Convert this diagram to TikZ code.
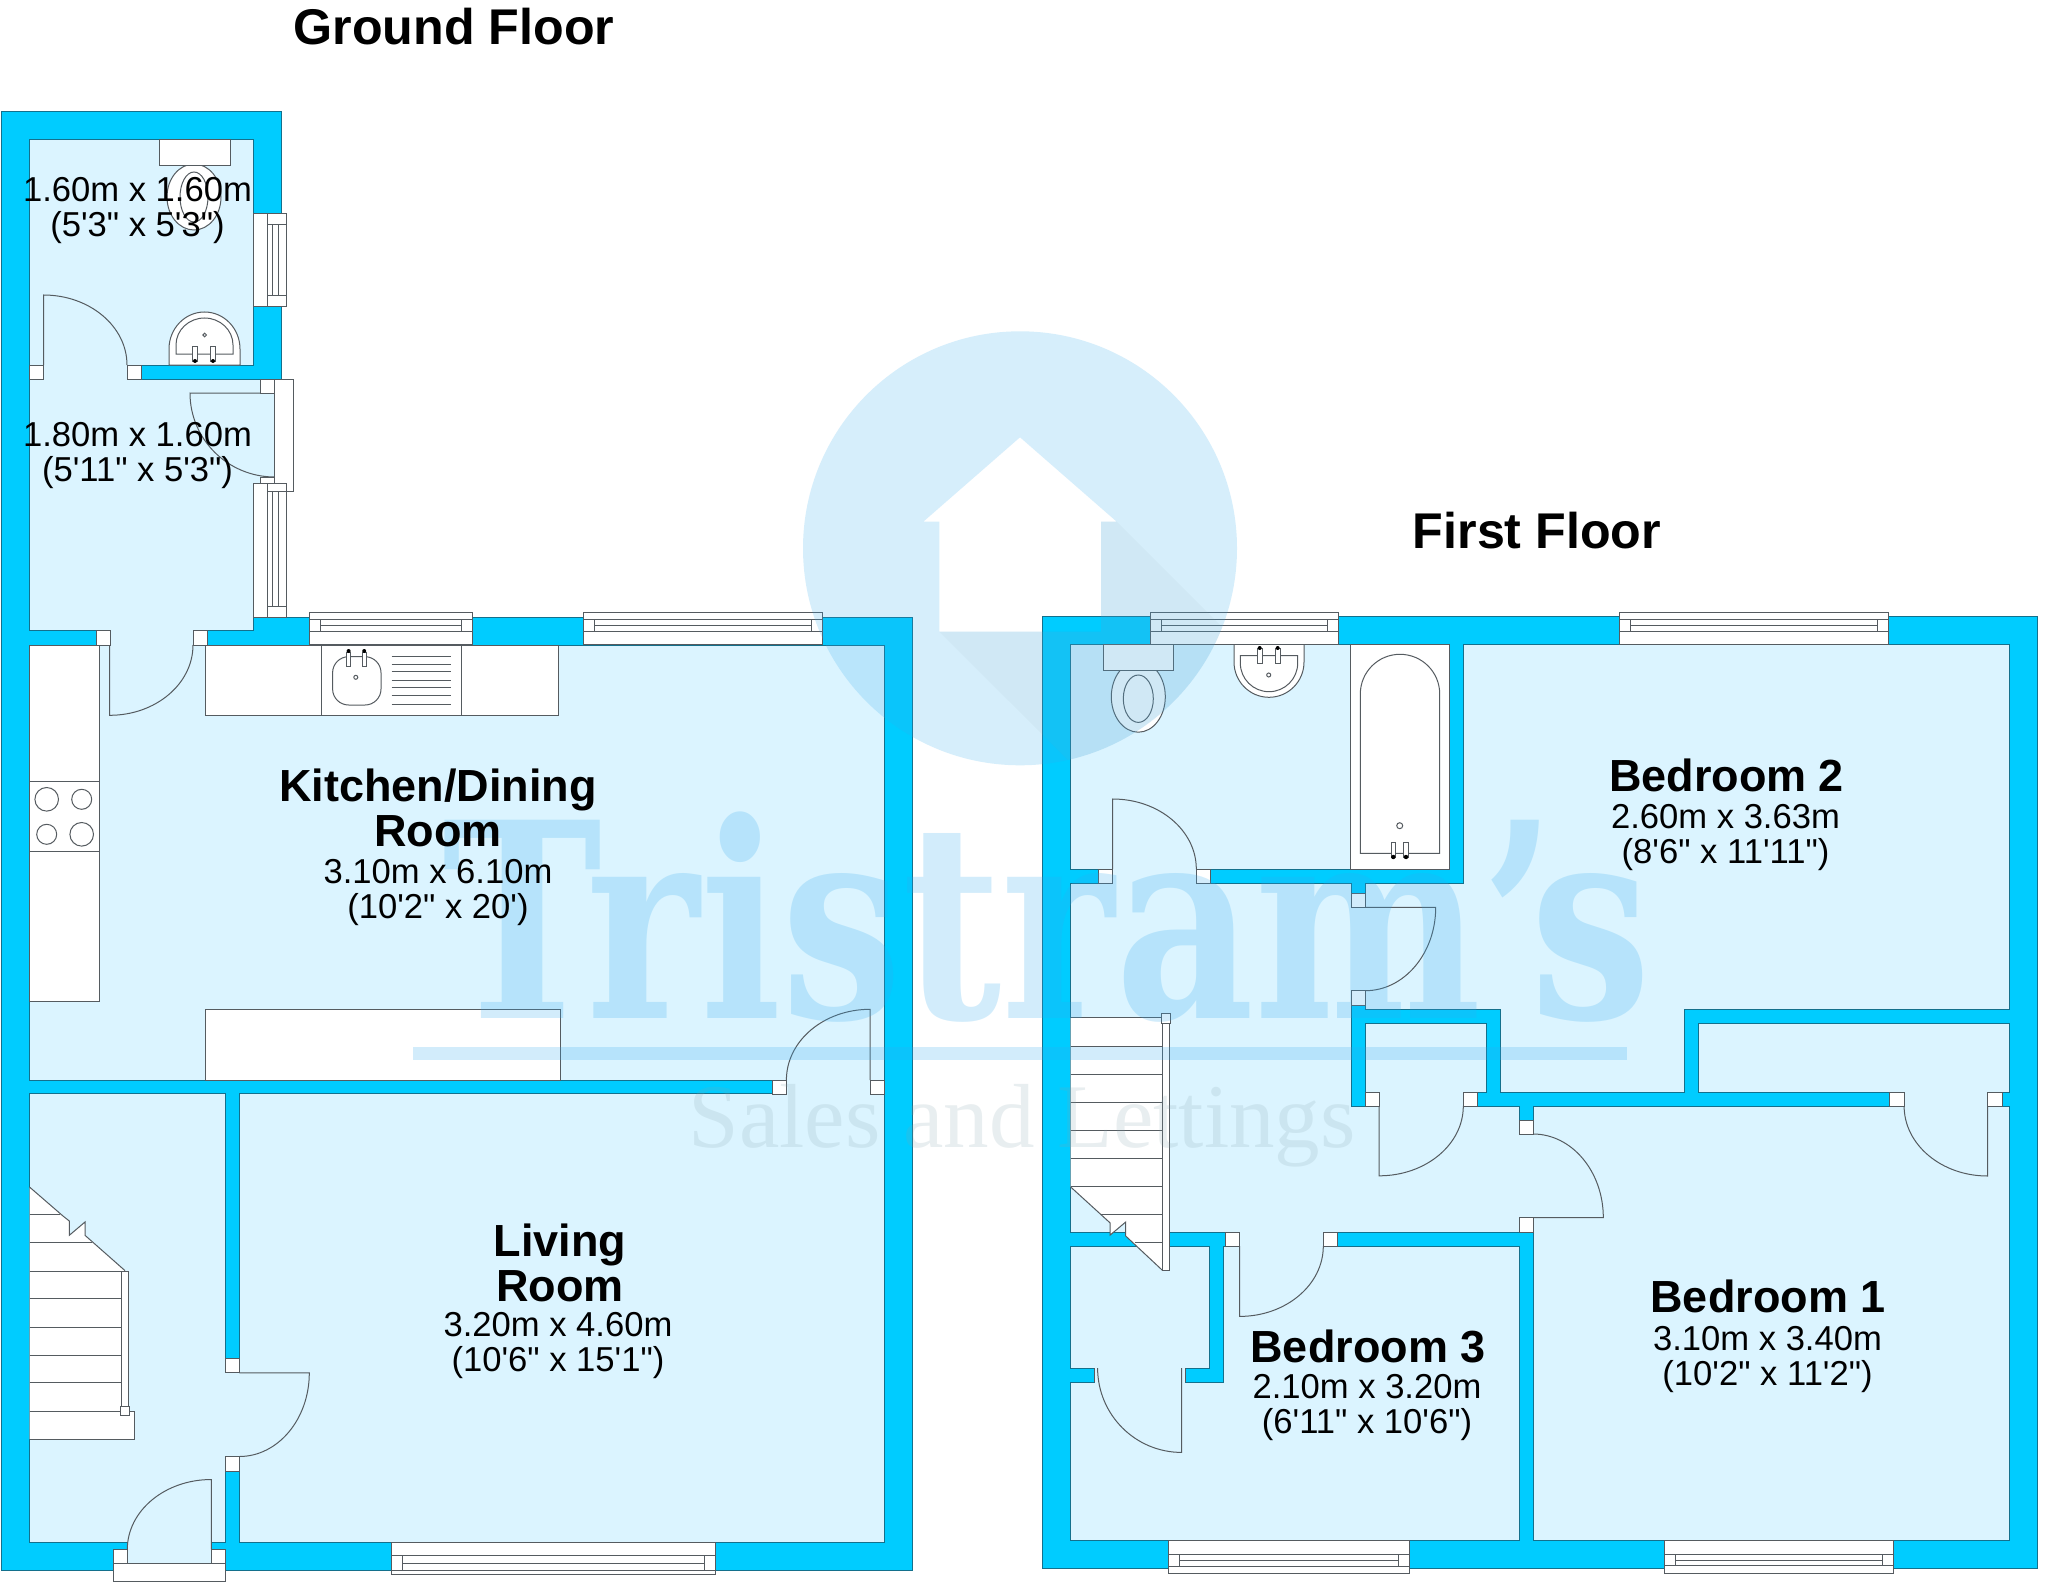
\documentclass[tikz,border=0pt]{standalone}
\usepackage{fontspec}
\newfontfamily\planfont{Liberation Sans}
\newfontfamily\markfont{DejaVu Serif}
\newfontfamily\salesfont{Liberation Serif}
\definecolor{wallblue}{HTML}{00CCFF}
\definecolor{roomblue}{HTML}{DBF4FF}
\definecolor{walledge}{HTML}{14708C}
\definecolor{fitline}{HTML}{555B60}
\definecolor{markblue}{HTML}{33AAEE}
\definecolor{markshade}{HTML}{A8A090}
\tikzset{
  wall/.style={fill=wallblue, draw=walledge, line width=.5pt},
  room/.style={fill=roomblue, draw=walledge, line width=.5pt},
  gapfill/.style={fill=roomblue},
  fitting/.style={fill=white, draw=fitline, line width=.5pt},
  thinline/.style={draw=fitline, line width=.5pt},
  swing/.style={draw=fitline, line width=.5pt},
  floorname/.style={font=\planfont\fontsize{25.1}{26}\selectfont\bfseries, anchor=base},
  roomname/.style={font=\planfont\fontsize{22.5}{22.5}\selectfont\bfseries, align=center, anchor=base, inner sep=0pt},
  roomsize/.style={font=\planfont\fontsize{17.3}{17.4}\selectfont, align=center, anchor=base, inner sep=0pt}
}
\begin{document}
\begin{tikzpicture}[x=.5pt, y=-.5pt]
  \useasboundingbox (0,0) rectangle (2048,1583);
  \fill[white] (0,0) rectangle (2048,1583);

  \draw[wall] (1.5,112) -- (281.7,112) -- (281.7,379) -- (274.7,379) -- (274.7,491) -- (253,491)
    -- (253,617.3) -- (912.6,617.3) -- (912.6,1570.6) -- (1.5,1570.6) -- cycle;
  \draw[wall] (1042.7,616.7) rectangle (2037.7,1568.8);

  \draw[room] (29.5,140) rectangle (253,365);
  \draw[room] (29.5,379) -- (260.7,379) -- (260.7,483.7) -- (253,483.7) -- (253,630.6) -- (29.5,630.6) -- cycle;
  \draw[room] (29.5,645) rectangle (884.4,1080);
  \draw[room] (29.5,1093.7) rectangle (225.3,1542.8);
  \draw[room] (239.3,1093.7) rectangle (884.4,1542.8);

  \draw[room] (1070.7,644.3) rectangle (1449,869);
  \draw[room] (1463,644.3) -- (2009.4,644.3) -- (2009.4,1009.3) -- (1684.3,1009.3) -- (1684.3,1092)
    -- (1500.4,1092) -- (1500.4,1009.3) -- (1365.3,1009.3) -- (1365.3,883.3) -- (1463,883.3) -- cycle;
  \draw[room] (1070.7,883.3) -- (1351.3,883.3) -- (1351.3,1106) -- (1519,1106) -- (1519,1232.3) -- (1070.7,1232.3) -- cycle;
  \draw[room] (1365.3,1023.4) rectangle (1486.7,1092);
  \draw[room] (1533,1106) rectangle (2009.4,1540.1);
  \draw[room] (1698.3,1023.3) rectangle (2009.4,1092);
  \draw[room] (1223.7,1246) -- (1519,1246) -- (1519,1540.1) -- (1070.7,1540.1) -- (1070.7,1382) -- (1223.7,1382) -- cycle;
  \draw[room] (1070.7,1246) rectangle (1209.4,1368);

  \foreach \xa/\ya/\xb/\yb in {43.5/364/127/380, 110/630/193/646, 260/393/274.7/477.5,
      786.4/1079/870/1095, 224.5/1372.9/240/1456.5, 127.3/1542/211.3/1563,
      1112.7/868/1196.3/884, 1350.5/907.3/1366/990.7, 1379.2/1091/1463.3/1107,
      1518.2/1134/1533.8/1217.7, 1904.1/1091/1987.6/1107, 1239.6/1231.5/1323.3/1246.8,
      1094.7/1367/1185.3/1383}
    \fill[gapfill] (\xa,\ya) rectangle (\xb,\yb);
  \draw[thinline] (1094.7,1368) -- (1094.7,1382) (1185.3,1368) -- (1185.3,1382);

  \draw[fitting] (29.5,645) rectangle (99.5,1001.7);
  \draw[fitting] (29.5,781.7) rectangle (99.5,851.7);
  \foreach \cx/\cy/\cr in {46.7/799.3/11.8, 81.7/799.3/10, 46.7/834.3/10, 81.7/834.3/11.8}
    \draw[thinline] (\cx,\cy) circle[radius=\cr];
  \draw[fitting] (205.3,645) rectangle (558.2,715.3);
  \draw[thinline] (321.2,645) -- (321.2,715.3) (461.4,645) -- (461.4,715.3);
  \draw[thinline, rounded corners=8pt] (332.6,656.7) rectangle (381,705);
  \foreach \ty in {656.7,664.3,671.7,680,687.3,695.3,704}
    \draw[thinline] (391.5,\ty) -- (450.5,\ty);
  \draw[thinline] (355.8,677.3) circle[radius=2];
  \foreach \tx in {348.6,364.2} {
    \draw[fitting] (\tx-2.2,652) rectangle (\tx+2.2,666.7);
    \fill[black] (\tx,651) circle[radius=2];
  }
  \draw[fitting] (205.3,1009.3) rectangle (560.7,1080);

  \draw[fitting] (194,197) ellipse[x radius=27, y radius=33];
  \draw[thinline] (194,197) ellipse[x radius=14, y radius=25];
  \draw[fitting] (159,140) rectangle (230,166);
  \draw[fitting] (169,365) -- (169,349) arc[start angle=180, end angle=360, x radius=35.5, y radius=37] -- (240,365) -- cycle;
  \draw[thinline] (176,354) -- (176,345) arc[start angle=180, end angle=360, x radius=28.5, y radius=27] -- (233,354) -- cycle;
  \draw[thinline] (204.7,335) circle[radius=1.8];
  \foreach \tx in {195,213} {
    \draw[fitting] (\tx-2.2,347) rectangle (\tx+2.2,361);
    \fill[black] (\tx,361) circle[radius=2];
  }

  \draw[fitting] (1138.3,696.7) ellipse[x radius=27, y radius=35.5];
  \draw[thinline] (1138.3,698.7) ellipse[x radius=15, y radius=23.7];
  \draw[fitting] (1103.3,644.3) rectangle (1173.3,670.7);
  \draw[fitting] (1234,644.3) -- (1234,662) arc[start angle=180, end angle=0, x radius=35, y radius=35.3] -- (1304,644.3) -- cycle;
  \draw[thinline] (1240.3,655.7) -- (1297.7,655.7) -- (1297.7,663) arc[start angle=0, end angle=180, x radius=28.7, y radius=28.7] -- cycle;
  \draw[thinline] (1268.7,675) circle[radius=2];
  \foreach \tx in {1259.7,1277.7} {
    \draw[fitting] (\tx-2.4,648) rectangle (\tx+2.4,663.3);
    \fill[black] (\tx,648) circle[radius=2];
  }
  \draw[fitting] (1350.7,644.3) rectangle (1449,869);
  \draw[thinline] (1360.3,853.3) -- (1360.3,694) arc[start angle=180, end angle=360, x radius=39.7, y radius=39.7] -- (1439.7,853.3) -- cycle;
  \draw[thinline] (1399.7,825.7) circle[radius=3];
  \foreach \tx in {1393.3,1406} {
    \draw[fitting] (\tx-2.2,842.3) rectangle (\tx+2.2,857);
    \fill[black] (\tx,857) circle[radius=2.2];
  }

  \fill[white] (29.5,1187) -- (63,1216) -- (69.3,1221) -- (69.3,1235.3) -- (85,1222) -- (85,1235.3) -- (125,1270.6)
    -- (128.7,1271) -- (128.7,1411) -- (134.3,1411) -- (134.3,1439) -- (29.5,1439) -- cycle;
  \draw[thinline] (29.5,1187) -- (63,1216) -- (69.3,1221) -- (69.3,1235.3) -- (85,1222) -- (85,1235.3) -- (125,1270.6);
  \draw[thinline] (29.5,1214.9) -- (60,1214.9) (29.5,1242.8) -- (91.7,1242.8);
  \foreach \ty in {1271,1298.9,1327.1,1355,1382.9,1411.2}
    \draw[thinline] (29.5,\ty) -- (121.7,\ty);
  \draw[fitting] (121.7,1271) rectangle (128.7,1411);
  \draw[fitting] (29.5,1411.2) -- (134.3,1411.2) -- (134.3,1439) -- (29.5,1439);
  \draw[fitting] (120.3,1406.3) rectangle (129.7,1415.6);

  \fill[white] (1070.7,1017.8) -- (1162.4,1017.8) -- (1162.4,1270.3) -- (1125.7,1236) -- (1125.7,1222) -- (1110.2,1235)
    -- (1110.2,1223) -- (1070.7,1187) -- cycle;
  \draw[thinline] (1070.7,1187) -- (1110.2,1223) -- (1110.2,1235) -- (1125.7,1222) -- (1125.7,1236) -- (1162.4,1270.3);
  \foreach \ty in {1017.8,1046.1,1074.3,1102.2,1130.1,1158.4,1186.2}
    \draw[thinline] (1070.7,\ty) -- (1162.4,\ty);
  \draw[thinline] (1100.8,1214.5) -- (1162.4,1214.5) (1134.7,1242.4) -- (1162.4,1242.4);
  \draw[fitting] (1162.4,1017.8) rectangle (1169.8,1270.3);
  \draw[fitting] (1161.2,1013.8) rectangle (1170.6,1023);

  \draw[swing] (43.5,365) -- (43.5,295) arc[start angle=-90, end angle=0, x radius=83.5, y radius=70];
  \draw[swing] (109.7,645) -- (109.7,715.3) arc[start angle=90, end angle=0, x radius=83.3, y radius=70.3];
  \draw[swing] (274.7,393) -- (190,393) arc[start angle=180, end angle=90, x radius=84.7, y radius=84];
  \draw[swing] (870,1080) -- (870,1009.3) arc[start angle=-90, end angle=-180, x radius=83.6, y radius=70.7];
  \draw[swing] (239.3,1372.9) -- (309.3,1372.9) arc[start angle=0, end angle=90, x radius=70, y radius=83.6];
  \draw[swing] (211.3,1549.4) -- (211.3,1479.5) arc[start angle=-90, end angle=-180, x radius=84, y radius=70];
  \draw[swing] (1112.7,869) -- (1112.7,799) arc[start angle=-90, end angle=0, x radius=83.6, y radius=70];
  \draw[swing] (1365.3,907.3) -- (1435.7,907.3) arc[start angle=0, end angle=90, x radius=70.4, y radius=83.4];
  \draw[swing] (1379.2,1106) -- (1379.2,1175.8) arc[start angle=90, end angle=0, x radius=84.1, y radius=69.8];
  \draw[swing] (1533,1217.7) -- (1603.3,1217.7) arc[start angle=0, end angle=-90, x radius=70.3, y radius=83.7];
  \draw[swing] (1987.6,1106) -- (1987.6,1176) arc[start angle=90, end angle=180, x radius=83.5, y radius=70];
  \draw[swing] (1239.6,1246) -- (1239.6,1316.4) arc[start angle=90, end angle=0, x radius=83.7, y radius=70.4];
  \draw[swing] (1181.6,1368) -- (1181.6,1452.4) arc[start angle=90, end angle=180, x radius=84, y radius=84.4];

  \foreach \xa/\ya/\xb/\yb in {29.5/365/43.5/379, 127/365/141/379, 96/630.6/110/645, 193/630.6/207/645,
      772.5/1080/786.4/1094, 870/1080/884.3/1094, 225.3/1358.7/239.3/1372.9, 225.3/1456.5/239.3/1471,
      113.3/1549.4/127.3/1563, 211.3/1549.4/225.3/1563,
      1098.3/869/1112.7/883.3, 1196.3/869/1210.7/883.3, 1351.3/893.3/1365.3/907.3, 1351.3/990.7/1365.3/1005.3,
      1365.3/1092/1379.2/1106, 1463.3/1092/1477.6/1106, 1519/1120/1533/1134, 1519/1217.7/1533/1232.3,
      1889.7/1092/1904.1/1106, 1987.6/1092/2002/1106, 1225.3/1232.3/1239.6/1246, 1323.3/1232.3/1337.6/1246}
    \draw[fitting] (\xa,\ya) rectangle (\xb,\yb);

  \draw[fitting] (113.3,1563) rectangle (225.3,1581.8);
  \draw[fitting] (274.7,379) rectangle (293,491);
  \draw[fitting] (260.7,379) rectangle (274.7,393);
  \draw[fitting] (260.7,477.5) rectangle (274.7,491);

  \foreach \ya/\yb/\ra/\rb in {213.5/307/224.5/296, 483.7/617.5/491/606} {
    \draw[fitting] (253,\ya) rectangle (286,\yb);
    \draw[thinline] (267.3,\ya) -- (267.3,\yb) (272.7,\ra) -- (272.7,\rb) (278.3,\ra) -- (278.3,\rb);
    \draw[thinline] (267.3,\ra) -- (286,\ra) (267.3,\rb) -- (286,\rb);
  }
  \foreach \xa/\xb in {309.5/472.8, 583.9/822.5, 1150/1338.7, 1619.3/1888.3} {
    \draw[fitting] (\xa,612.3) rectangle (\xb,644.8);
    \draw[thinline] (\xa,619.5) -- (\xb,619.5) (\xa,631) -- (\xb,631);
    \draw[thinline] (\xa+11,625.3) -- (\xb-11,625.3) (\xa+11,619.5) -- (\xa+11,631) (\xb-11,619.5) -- (\xb-11,631);
  }
  \foreach \xa/\xb/\ya/\yb/\ra/\rm/\rb in {391.7/715/1542.8/1574.4/1555.8/1563/1570.6,
      1168.6/1409.8/1540.1/1573.2/1554.5/1560.5/1566.5, 1664/1893.3/1540.4/1573.3/1554.3/1560/1565.7} {
    \draw[fitting] (\xa,\ya) rectangle (\xb,\yb);
    \draw[thinline] (\xa,\ra) -- (\xb,\ra) (\xa,\rb) -- (\xb,\rb);
    \draw[thinline] (\xa+11,\rm) -- (\xb-11,\rm) (\xa+11,\ra) -- (\xa+11,\rb) (\xb-11,\ra) -- (\xb-11,\rb);
  }

  \begin{scope}
    \clip (1020,548.3) circle[radius=217];
    \fill[markshade, fill opacity=.07] (1101,521.7) -- (1116.7,521.7) -- (1300,705) -- (1139,831) -- (939.3,631.7) -- (1101,631.7) -- cycle;
  \end{scope}
  \fill[markblue, fill opacity=.2, even odd rule] (1020,548.3) circle[radius=217]
    (1020,437.3) -- (1116.7,521.7) -- (1101,521.7) -- (1101,631.7) -- (939.3,631.7) -- (939.3,521.7) -- (923.3,521.7) -- cycle;
  \node[anchor=base, inner sep=0pt, text=markblue, text opacity=.22, font=\markfont\fontsize{136}{136}\selectfont\bfseries] (MarkName) at (1047,1018) {\scalebox{0.79}[1]{Tristram’\kern-.12em s}};
  \fill[markblue, fill opacity=.22] (413,1046.5) rectangle (1627,1059.5);
  \node[anchor=base, inner sep=0pt, text=markshade!70!markblue, text opacity=.18, font=\salesfont\fontsize{45.5}{45.5}\selectfont] (MarkSales) at (1022,1147) {Sales and Lettings};

  \node[floorname] (GroundTitle) at (454,45) {Ground Floor};
  \node[floorname] (FirstTitle) at (1537,548) {First Floor};

  \node[roomsize] (PorchSize) at (137.5,236.7) {1.60m x 1.60m\\(5'3" x 5'3")};
  \node[roomsize] (HallSize) at (137.5,481.6) {1.80m x 1.60m\\(5'11" x 5'3")};
  \node[roomname] (KitchenName) at (438,846.7) {Kitchen/Dining\\Room};
  \node[roomsize] (KitchenSize) at (438,918) {3.10m x 6.10m\\(10'2" x 20')};
  \node[roomname] (LivingName) at (560,1301) {Living\\Room};
  \node[roomsize] (LivingSize) at (558,1371.5) {3.20m x 4.60m\\(10'6" x 15'1")};
  \node[roomname] (BedroomTwoName) at (1726.5,791) {Bedroom 2};
  \node[roomsize] (BedroomTwoSize) at (1725.5,863) {2.60m x 3.63m\\(8'6" x 11'11")};
  \node[roomname] (BedroomOneName) at (1768,1312) {Bedroom 1};
  \node[roomsize] (BedroomOneSize) at (1767.5,1385) {3.10m x 3.40m\\(10'2" x 11'2")};
  \node[roomname] (BedroomThreeName) at (1368,1362.4) {Bedroom 3};
  \node[roomsize] (BedroomThreeSize) at (1367,1433) {2.10m x 3.20m\\(6'11" x 10'6")};
\end{tikzpicture}
\end{document}
